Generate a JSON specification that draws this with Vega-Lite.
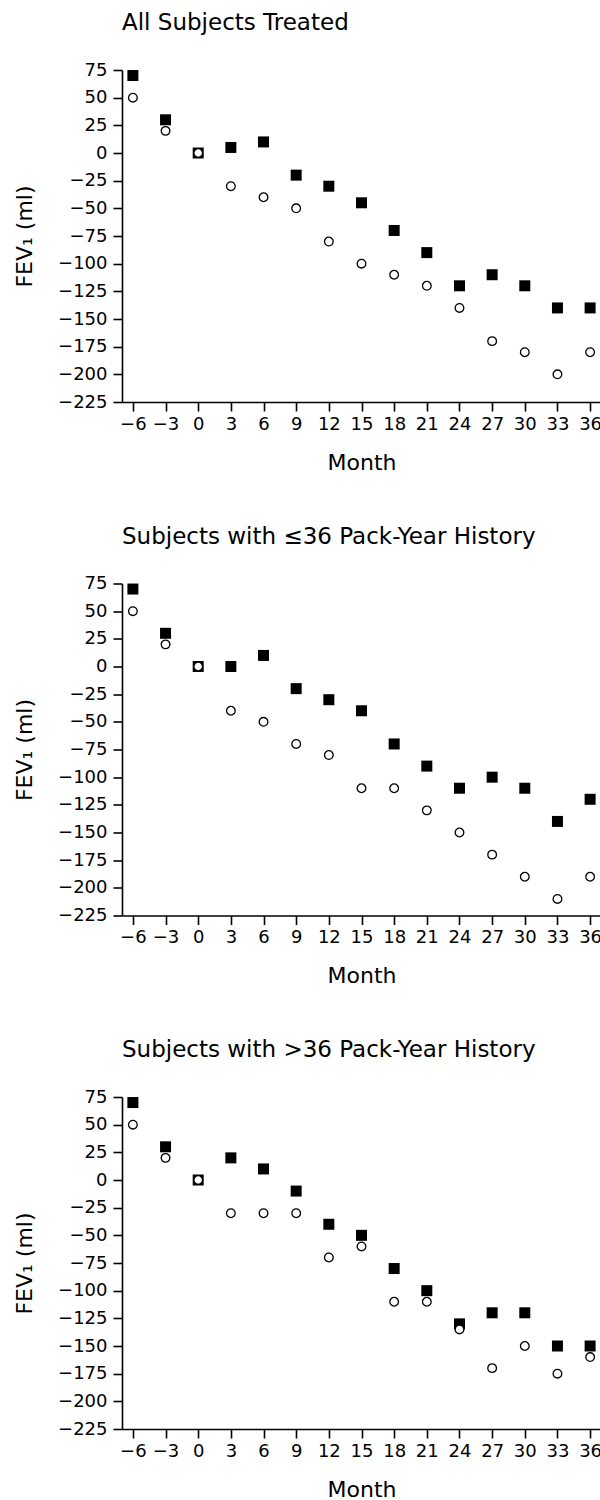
{
  "$schema": "https://vega.github.io/schema/vega-lite/v6.json",
  "background": "white",
  "padding": {"left": 13, "top": 12, "right": 0, "bottom": 0},
  "bounds": "flush",
  "spacing": 181.5,
  "config": {
    "view": {"stroke": null},
    "font": "DejaVu Sans",
    "axis": {
      "domainColor": "black",
      "domainWidth": 1.6,
      "tickColor": "black",
      "tickWidth": 1.6,
      "tickSize": 9,
      "labelColor": "black",
      "labelFontSize": 18,
      "titleColor": "black",
      "titleFontSize": 22,
      "titleFontWeight": "normal",
      "grid": false
    },
    "title": {"fontSize": 23, "fontWeight": "normal", "color": "black", "anchor": "start", "frame": "group"}
  },
  "datasets": {
    "fev": [
      {"panel": "all", "series": "sq", "month": -6, "value": 70},
      {"panel": "all", "series": "sq", "month": -3, "value": 30},
      {"panel": "all", "series": "sq", "month": 0, "value": 0},
      {"panel": "all", "series": "sq", "month": 3, "value": 5},
      {"panel": "all", "series": "sq", "month": 6, "value": 10},
      {"panel": "all", "series": "sq", "month": 9, "value": -20},
      {"panel": "all", "series": "sq", "month": 12, "value": -30},
      {"panel": "all", "series": "sq", "month": 15, "value": -45},
      {"panel": "all", "series": "sq", "month": 18, "value": -70},
      {"panel": "all", "series": "sq", "month": 21, "value": -90},
      {"panel": "all", "series": "sq", "month": 24, "value": -120},
      {"panel": "all", "series": "sq", "month": 27, "value": -110},
      {"panel": "all", "series": "sq", "month": 30, "value": -120},
      {"panel": "all", "series": "sq", "month": 33, "value": -140},
      {"panel": "all", "series": "sq", "month": 36, "value": -140},
      {"panel": "all", "series": "ci", "month": -6, "value": 50},
      {"panel": "all", "series": "ci", "month": -3, "value": 20},
      {"panel": "all", "series": "ci", "month": 0, "value": 0},
      {"panel": "all", "series": "ci", "month": 3, "value": -30},
      {"panel": "all", "series": "ci", "month": 6, "value": -40},
      {"panel": "all", "series": "ci", "month": 9, "value": -50},
      {"panel": "all", "series": "ci", "month": 12, "value": -80},
      {"panel": "all", "series": "ci", "month": 15, "value": -100},
      {"panel": "all", "series": "ci", "month": 18, "value": -110},
      {"panel": "all", "series": "ci", "month": 21, "value": -120},
      {"panel": "all", "series": "ci", "month": 24, "value": -140},
      {"panel": "all", "series": "ci", "month": 27, "value": -170},
      {"panel": "all", "series": "ci", "month": 30, "value": -180},
      {"panel": "all", "series": "ci", "month": 33, "value": -200},
      {"panel": "all", "series": "ci", "month": 36, "value": -180},
      {"panel": "le36", "series": "sq", "month": -6, "value": 70},
      {"panel": "le36", "series": "sq", "month": -3, "value": 30},
      {"panel": "le36", "series": "sq", "month": 0, "value": 0},
      {"panel": "le36", "series": "sq", "month": 3, "value": 0},
      {"panel": "le36", "series": "sq", "month": 6, "value": 10},
      {"panel": "le36", "series": "sq", "month": 9, "value": -20},
      {"panel": "le36", "series": "sq", "month": 12, "value": -30},
      {"panel": "le36", "series": "sq", "month": 15, "value": -40},
      {"panel": "le36", "series": "sq", "month": 18, "value": -70},
      {"panel": "le36", "series": "sq", "month": 21, "value": -90},
      {"panel": "le36", "series": "sq", "month": 24, "value": -110},
      {"panel": "le36", "series": "sq", "month": 27, "value": -100},
      {"panel": "le36", "series": "sq", "month": 30, "value": -110},
      {"panel": "le36", "series": "sq", "month": 33, "value": -140},
      {"panel": "le36", "series": "sq", "month": 36, "value": -120},
      {"panel": "le36", "series": "ci", "month": -6, "value": 50},
      {"panel": "le36", "series": "ci", "month": -3, "value": 20},
      {"panel": "le36", "series": "ci", "month": 0, "value": 0},
      {"panel": "le36", "series": "ci", "month": 3, "value": -40},
      {"panel": "le36", "series": "ci", "month": 6, "value": -50},
      {"panel": "le36", "series": "ci", "month": 9, "value": -70},
      {"panel": "le36", "series": "ci", "month": 12, "value": -80},
      {"panel": "le36", "series": "ci", "month": 15, "value": -110},
      {"panel": "le36", "series": "ci", "month": 18, "value": -110},
      {"panel": "le36", "series": "ci", "month": 21, "value": -130},
      {"panel": "le36", "series": "ci", "month": 24, "value": -150},
      {"panel": "le36", "series": "ci", "month": 27, "value": -170},
      {"panel": "le36", "series": "ci", "month": 30, "value": -190},
      {"panel": "le36", "series": "ci", "month": 33, "value": -210},
      {"panel": "le36", "series": "ci", "month": 36, "value": -190},
      {"panel": "gt36", "series": "sq", "month": -6, "value": 70},
      {"panel": "gt36", "series": "sq", "month": -3, "value": 30},
      {"panel": "gt36", "series": "sq", "month": 0, "value": 0},
      {"panel": "gt36", "series": "sq", "month": 3, "value": 20},
      {"panel": "gt36", "series": "sq", "month": 6, "value": 10},
      {"panel": "gt36", "series": "sq", "month": 9, "value": -10},
      {"panel": "gt36", "series": "sq", "month": 12, "value": -40},
      {"panel": "gt36", "series": "sq", "month": 15, "value": -50},
      {"panel": "gt36", "series": "sq", "month": 18, "value": -80},
      {"panel": "gt36", "series": "sq", "month": 21, "value": -100},
      {"panel": "gt36", "series": "sq", "month": 24, "value": -130},
      {"panel": "gt36", "series": "sq", "month": 27, "value": -120},
      {"panel": "gt36", "series": "sq", "month": 30, "value": -120},
      {"panel": "gt36", "series": "sq", "month": 33, "value": -150},
      {"panel": "gt36", "series": "sq", "month": 36, "value": -150},
      {"panel": "gt36", "series": "ci", "month": -6, "value": 50},
      {"panel": "gt36", "series": "ci", "month": -3, "value": 20},
      {"panel": "gt36", "series": "ci", "month": 0, "value": 0},
      {"panel": "gt36", "series": "ci", "month": 3, "value": -30},
      {"panel": "gt36", "series": "ci", "month": 6, "value": -30},
      {"panel": "gt36", "series": "ci", "month": 9, "value": -30},
      {"panel": "gt36", "series": "ci", "month": 12, "value": -70},
      {"panel": "gt36", "series": "ci", "month": 15, "value": -60},
      {"panel": "gt36", "series": "ci", "month": 18, "value": -110},
      {"panel": "gt36", "series": "ci", "month": 21, "value": -110},
      {"panel": "gt36", "series": "ci", "month": 24, "value": -135},
      {"panel": "gt36", "series": "ci", "month": 27, "value": -170},
      {"panel": "gt36", "series": "ci", "month": 30, "value": -150},
      {"panel": "gt36", "series": "ci", "month": 33, "value": -175},
      {"panel": "gt36", "series": "ci", "month": 36, "value": -160}
    ]
  },
  "vconcat": [
    {
      "title": {"text": "All Subjects Treated", "baseline": "alphabetic", "offset": 8},
      "width": 479,
      "height": 332,
      "data": {"name": "fev"},
      "transform": [{"filter": "datum.panel === 'all'"}],
      "encoding": {
        "x": {"field": "month", "type": "quantitative", "scale": {"domain": [-7, 37], "nice": false},
          "axis": {"title": "Month", "values": [-6, -3, 0, 3, 6, 9, 12, 15, 18, 21, 24, 27, 30, 33, 36], "labelPadding": 4, "titlePadding": 19,
            "labelExpr": "datum.value < 0 ? '\u2212' + abs(datum.value) : '' + datum.value", "labelFlush": false, "labelOverlap": false}},
        "y": {"field": "value", "type": "quantitative", "scale": {"domain": [-225, 75], "nice": false},
          "axis": {"title": "FEV\u2081 (ml)", "values": [75, 50, 25, 0, -25, -50, -75, -100, -125, -150, -175, -200, -225], "labelPadding": 6, "titlePadding": 21,
            "labelExpr": "datum.value < 0 ? '\u2212' + abs(datum.value) : '' + datum.value", "labelFlush": false, "labelOverlap": false}}
      },
      "layer": [
        {"transform": [{"filter": "datum.series === 'sq'"}], "mark": {"type": "point", "shape": "square", "filled": true, "color": "black", "size": 121, "opacity": 1}},
        {"transform": [{"filter": "datum.series === 'ci'"}], "mark": {"type": "point", "shape": "circle", "filled": true, "fill": "white", "stroke": "black", "strokeWidth": 1.3, "size": 75, "opacity": 1}}
      ]
    },
    {
      "title": {"text": "Subjects with \u226436 Pack-Year History", "baseline": "alphabetic", "offset": 8},
      "width": 479,
      "height": 332,
      "data": {"name": "fev"},
      "transform": [{"filter": "datum.panel === 'le36'"}],
      "encoding": {
        "x": {"field": "month", "type": "quantitative", "scale": {"domain": [-7, 37], "nice": false},
          "axis": {"title": "Month", "values": [-6, -3, 0, 3, 6, 9, 12, 15, 18, 21, 24, 27, 30, 33, 36], "labelPadding": 4, "titlePadding": 19,
            "labelExpr": "datum.value < 0 ? '\u2212' + abs(datum.value) : '' + datum.value", "labelFlush": false, "labelOverlap": false}},
        "y": {"field": "value", "type": "quantitative", "scale": {"domain": [-225, 75], "nice": false},
          "axis": {"title": "FEV\u2081 (ml)", "values": [75, 50, 25, 0, -25, -50, -75, -100, -125, -150, -175, -200, -225], "labelPadding": 6, "titlePadding": 21,
            "labelExpr": "datum.value < 0 ? '\u2212' + abs(datum.value) : '' + datum.value", "labelFlush": false, "labelOverlap": false}}
      },
      "layer": [
        {"transform": [{"filter": "datum.series === 'sq'"}], "mark": {"type": "point", "shape": "square", "filled": true, "color": "black", "size": 121, "opacity": 1}},
        {"transform": [{"filter": "datum.series === 'ci'"}], "mark": {"type": "point", "shape": "circle", "filled": true, "fill": "white", "stroke": "black", "strokeWidth": 1.3, "size": 75, "opacity": 1}}
      ]
    },
    {
      "title": {"text": "Subjects with >36 Pack-Year History", "baseline": "alphabetic", "offset": 8},
      "width": 479,
      "height": 332,
      "data": {"name": "fev"},
      "transform": [{"filter": "datum.panel === 'gt36'"}],
      "encoding": {
        "x": {"field": "month", "type": "quantitative", "scale": {"domain": [-7, 37], "nice": false},
          "axis": {"title": "Month", "values": [-6, -3, 0, 3, 6, 9, 12, 15, 18, 21, 24, 27, 30, 33, 36], "labelPadding": 4, "titlePadding": 19,
            "labelExpr": "datum.value < 0 ? '\u2212' + abs(datum.value) : '' + datum.value", "labelFlush": false, "labelOverlap": false}},
        "y": {"field": "value", "type": "quantitative", "scale": {"domain": [-225, 75], "nice": false},
          "axis": {"title": "FEV\u2081 (ml)", "values": [75, 50, 25, 0, -25, -50, -75, -100, -125, -150, -175, -200, -225], "labelPadding": 6, "titlePadding": 21,
            "labelExpr": "datum.value < 0 ? '\u2212' + abs(datum.value) : '' + datum.value", "labelFlush": false, "labelOverlap": false}}
      },
      "layer": [
        {"transform": [{"filter": "datum.series === 'sq'"}], "mark": {"type": "point", "shape": "square", "filled": true, "color": "black", "size": 121, "opacity": 1}},
        {"transform": [{"filter": "datum.series === 'ci'"}], "mark": {"type": "point", "shape": "circle", "filled": true, "fill": "white", "stroke": "black", "strokeWidth": 1.3, "size": 75, "opacity": 1}}
      ]
    }
  ]
}
